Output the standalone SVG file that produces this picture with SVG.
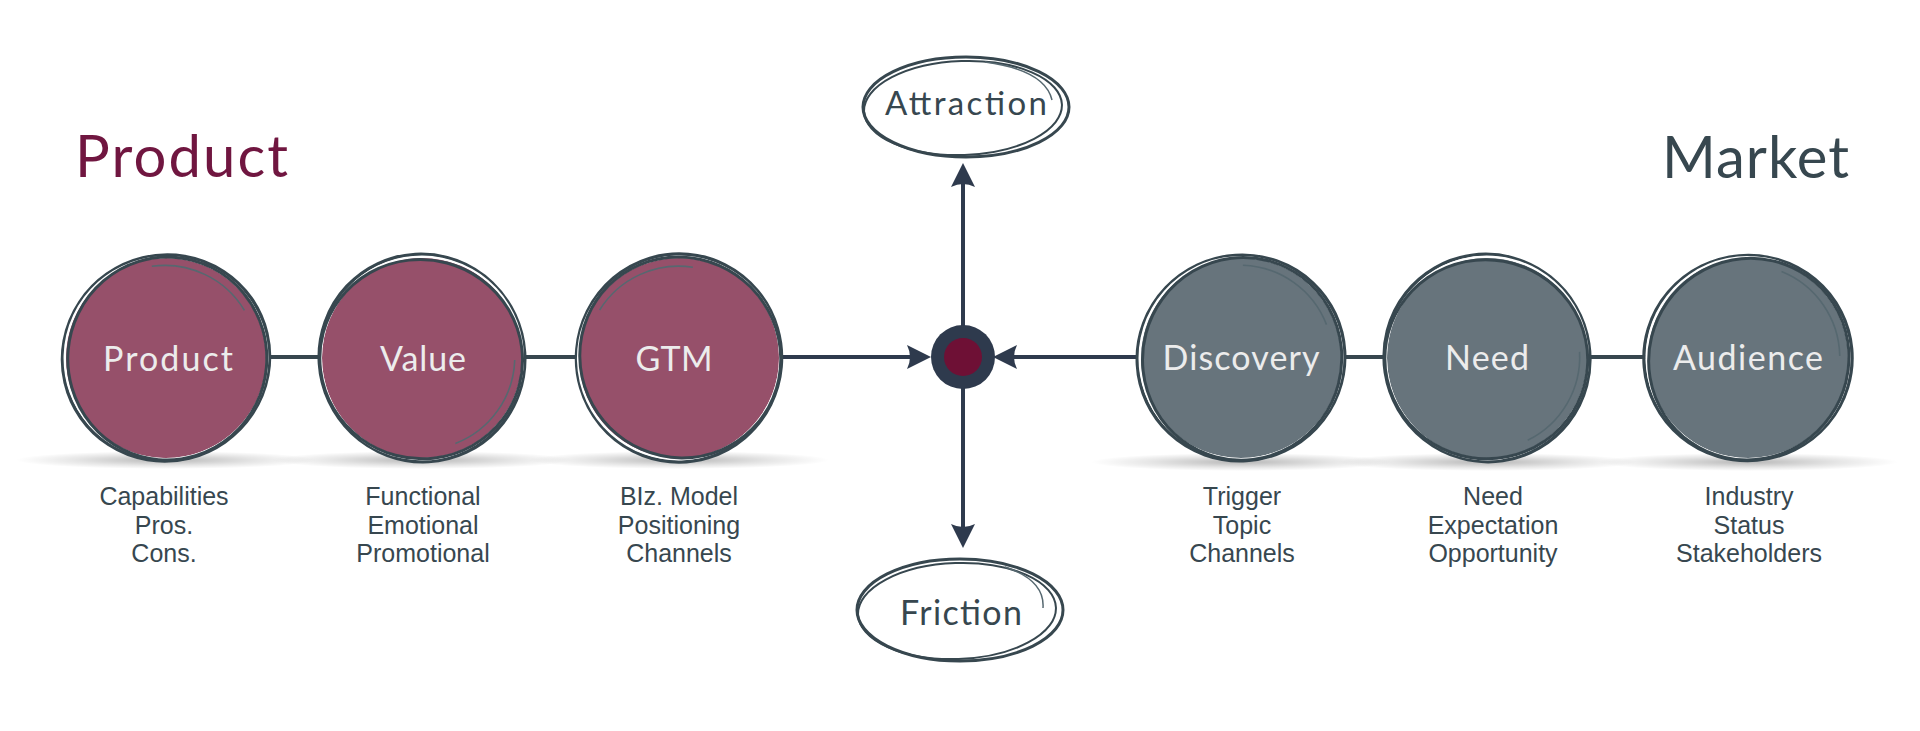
<svg xmlns="http://www.w3.org/2000/svg" xmlns:xlink="http://www.w3.org/1999/xlink" width="1920" height="731" viewBox="0 0 1920 731">
<style>
.title{font-family:Lato,"Open Sans","Noto Sans",sans-serif;font-size:58px;}
.clabel{font-family:Lato,"Open Sans","Noto Sans",sans-serif;font-size:34px;fill:#ececec;text-anchor:middle;}
.elabel{font-family:Lato,"Open Sans","Noto Sans",sans-serif;font-size:33px;fill:#37474f;text-anchor:middle;}
.sub{font-family:"Liberation Sans",Arial,sans-serif;font-size:25px;fill:#37474f;text-anchor:middle;}
.pf{fill:#96506a;}
.mf{fill:#67747c;}
.link{stroke:#37474f;stroke-width:4;fill:none;}
.arrow{stroke:#2e3a4d;stroke-width:4;fill:none;}
.ring{fill:none;stroke:#37474f;}
</style>
<defs>
  <radialGradient id="sh" cx="0.5" cy="0.5" r="0.5">
    <stop offset="0" stop-color="#000" stop-opacity="0.28"/>
    <stop offset="0.6" stop-color="#000" stop-opacity="0.1"/>
    <stop offset="1" stop-color="#000" stop-opacity="0"/>
  </radialGradient>
  <marker id="ah" viewBox="0 0 24 24" markerWidth="24" markerHeight="24" markerUnits="userSpaceOnUse" refX="8" refY="12" orient="auto">
    <path d="M0,0 L24,12 L0,24 Q6,12 0,0 Z" fill="#2e3a4d"/>
  </marker>
  <g id="ring">
    <ellipse class="ring" rx="104" ry="102.5" stroke-width="3.5" transform="rotate(-15)"/>
    <ellipse rx="101.5" ry="101" fill="none" stroke="#fff" stroke-width="2"/>
    <ellipse class="ring" rx="99.5" ry="101.5" stroke-width="3" transform="translate(1,1) rotate(25)"/>
    <path d="M18,-91 A93,93 0 0 1 90,-18" fill="none" stroke="#566870" stroke-width="1.6"/>
  </g>
</defs>
<rect width="1920" height="731" fill="#fff"/>

<text class="title" x="75" y="177" fill="#701640" textLength="213">Product</text>
<text class="title" x="1662" y="178" fill="#37474f" textLength="187">Market</text>

<g id="shadows">
  <ellipse cx="166" cy="460" rx="150" ry="9" fill="url(#sh)"/>
  <ellipse cx="422" cy="460" rx="150" ry="9" fill="url(#sh)"/>
  <ellipse cx="679" cy="460" rx="150" ry="9" fill="url(#sh)"/>
  <ellipse cx="1241" cy="462" rx="150" ry="9" fill="url(#sh)"/>
  <ellipse cx="1487" cy="462" rx="150" ry="9" fill="url(#sh)"/>
  <ellipse cx="1748" cy="462" rx="150" ry="9" fill="url(#sh)"/>
</g>

<g id="connectors">
  <path class="link" d="M268,357 L322,357"/>
  <path class="link" d="M524,357 L577,357"/>
  <path class="arrow" d="M781,357 L915,357" marker-end="url(#ah)"/>
  <path class="arrow" d="M1139,357 L1009,357" marker-end="url(#ah)"/>
  <path class="link" d="M1343,357 L1387,357"/>
  <path class="link" d="M1589,357 L1646,357"/>
  <path class="arrow" d="M963,330 L963,179" marker-end="url(#ah)"/>
  <path class="arrow" d="M963,385 L963,532" marker-end="url(#ah)"/>
</g>

<g id="node-product">
  <circle class="pf" cx="166" cy="358" r="100"/>
  <use xlink:href="#ring" transform="translate(166,358) rotate(-20)"/>
  <text class="clabel" x="168" y="371" textLength="130">Product</text>
</g>
<g id="node-value">
  <circle class="pf" cx="422" cy="358" r="100"/>
  <use xlink:href="#ring" transform="translate(422,358) rotate(80)"/>
  <text class="clabel" x="423" y="371" textLength="86">Value</text>
</g>
<g id="node-gtm">
  <circle class="pf" cx="679" cy="358" r="100"/>
  <use xlink:href="#ring" transform="translate(679,358) rotate(-70)"/>
  <text class="clabel" x="674" y="371" textLength="77">GTM</text>
</g>
<g id="node-discovery">
  <circle class="mf" cx="1241" cy="358" r="100"/>
  <use xlink:href="#ring" transform="translate(1241,358) rotate(-10)"/>
  <text class="clabel" x="1241" y="370" textLength="157">Discovery</text>
</g>
<g id="node-need">
  <circle class="mf" cx="1487" cy="358" r="100"/>
  <use xlink:href="#ring" transform="translate(1487,358) rotate(75)"/>
  <text class="clabel" x="1487" y="370" textLength="84">Need</text>
</g>
<g id="node-audience">
  <circle class="mf" cx="1748" cy="358" r="100"/>
  <use xlink:href="#ring" transform="translate(1748,358) rotate(10)"/>
  <text class="clabel" x="1748" y="370" textLength="150">Audience</text>
</g>

<g id="node-center">
  <circle cx="963" cy="357" r="32" fill="#2e3a4d"/>
  <circle cx="963" cy="357" r="19" fill="#6e1035"/>
</g>

<g id="node-attraction">
  <ellipse cx="966" cy="107" rx="103" ry="50" fill="#fff" stroke="#37474f" stroke-width="3"/>
  <ellipse cx="963" cy="108" rx="99" ry="47" fill="none" stroke="#37474f" stroke-width="2" transform="rotate(-2 963 108)"/>
  <path d="M985,62 Q1045,70 1052,100" fill="none" stroke="#566870" stroke-width="1.5"/>
  <text class="elabel" x="966" y="115" textLength="162">Attraction</text>
</g>
<g id="node-friction">
  <ellipse cx="960" cy="610" rx="103" ry="51" fill="#fff" stroke="#37474f" stroke-width="3"/>
  <ellipse cx="957" cy="611" rx="99" ry="48" fill="none" stroke="#37474f" stroke-width="2" transform="rotate(-2 957 611)"/>
  <path d="M1005,567 Q1045,580 1043,608" fill="none" stroke="#566870" stroke-width="1.5"/>
  <text class="elabel" x="961" y="625" style="font-size:34px" textLength="122">Friction</text>
</g>

<g id="labels">
  <text class="sub" y="505"><tspan x="164">Capabilities</tspan><tspan x="164" dy="28.5">Pros.</tspan><tspan x="164" dy="28.5">Cons.</tspan></text>
  <text class="sub" y="505"><tspan x="423">Functional</tspan><tspan x="423" dy="28.5">Emotional</tspan><tspan x="423" dy="28.5">Promotional</tspan></text>
  <text class="sub" y="505"><tspan x="679">BIz. Model</tspan><tspan x="679" dy="28.5">Positioning</tspan><tspan x="679" dy="28.5">Channels</tspan></text>
  <text class="sub" y="505"><tspan x="1242">Trigger</tspan><tspan x="1242" dy="28.5">Topic</tspan><tspan x="1242" dy="28.5">Channels</tspan></text>
  <text class="sub" y="505"><tspan x="1493">Need</tspan><tspan x="1493" dy="28.5">Expectation</tspan><tspan x="1493" dy="28.5">Opportunity</tspan></text>
  <text class="sub" y="505"><tspan x="1749">Industry</tspan><tspan x="1749" dy="28.5">Status</tspan><tspan x="1749" dy="28.5">Stakeholders</tspan></text>
</g>
</svg>
